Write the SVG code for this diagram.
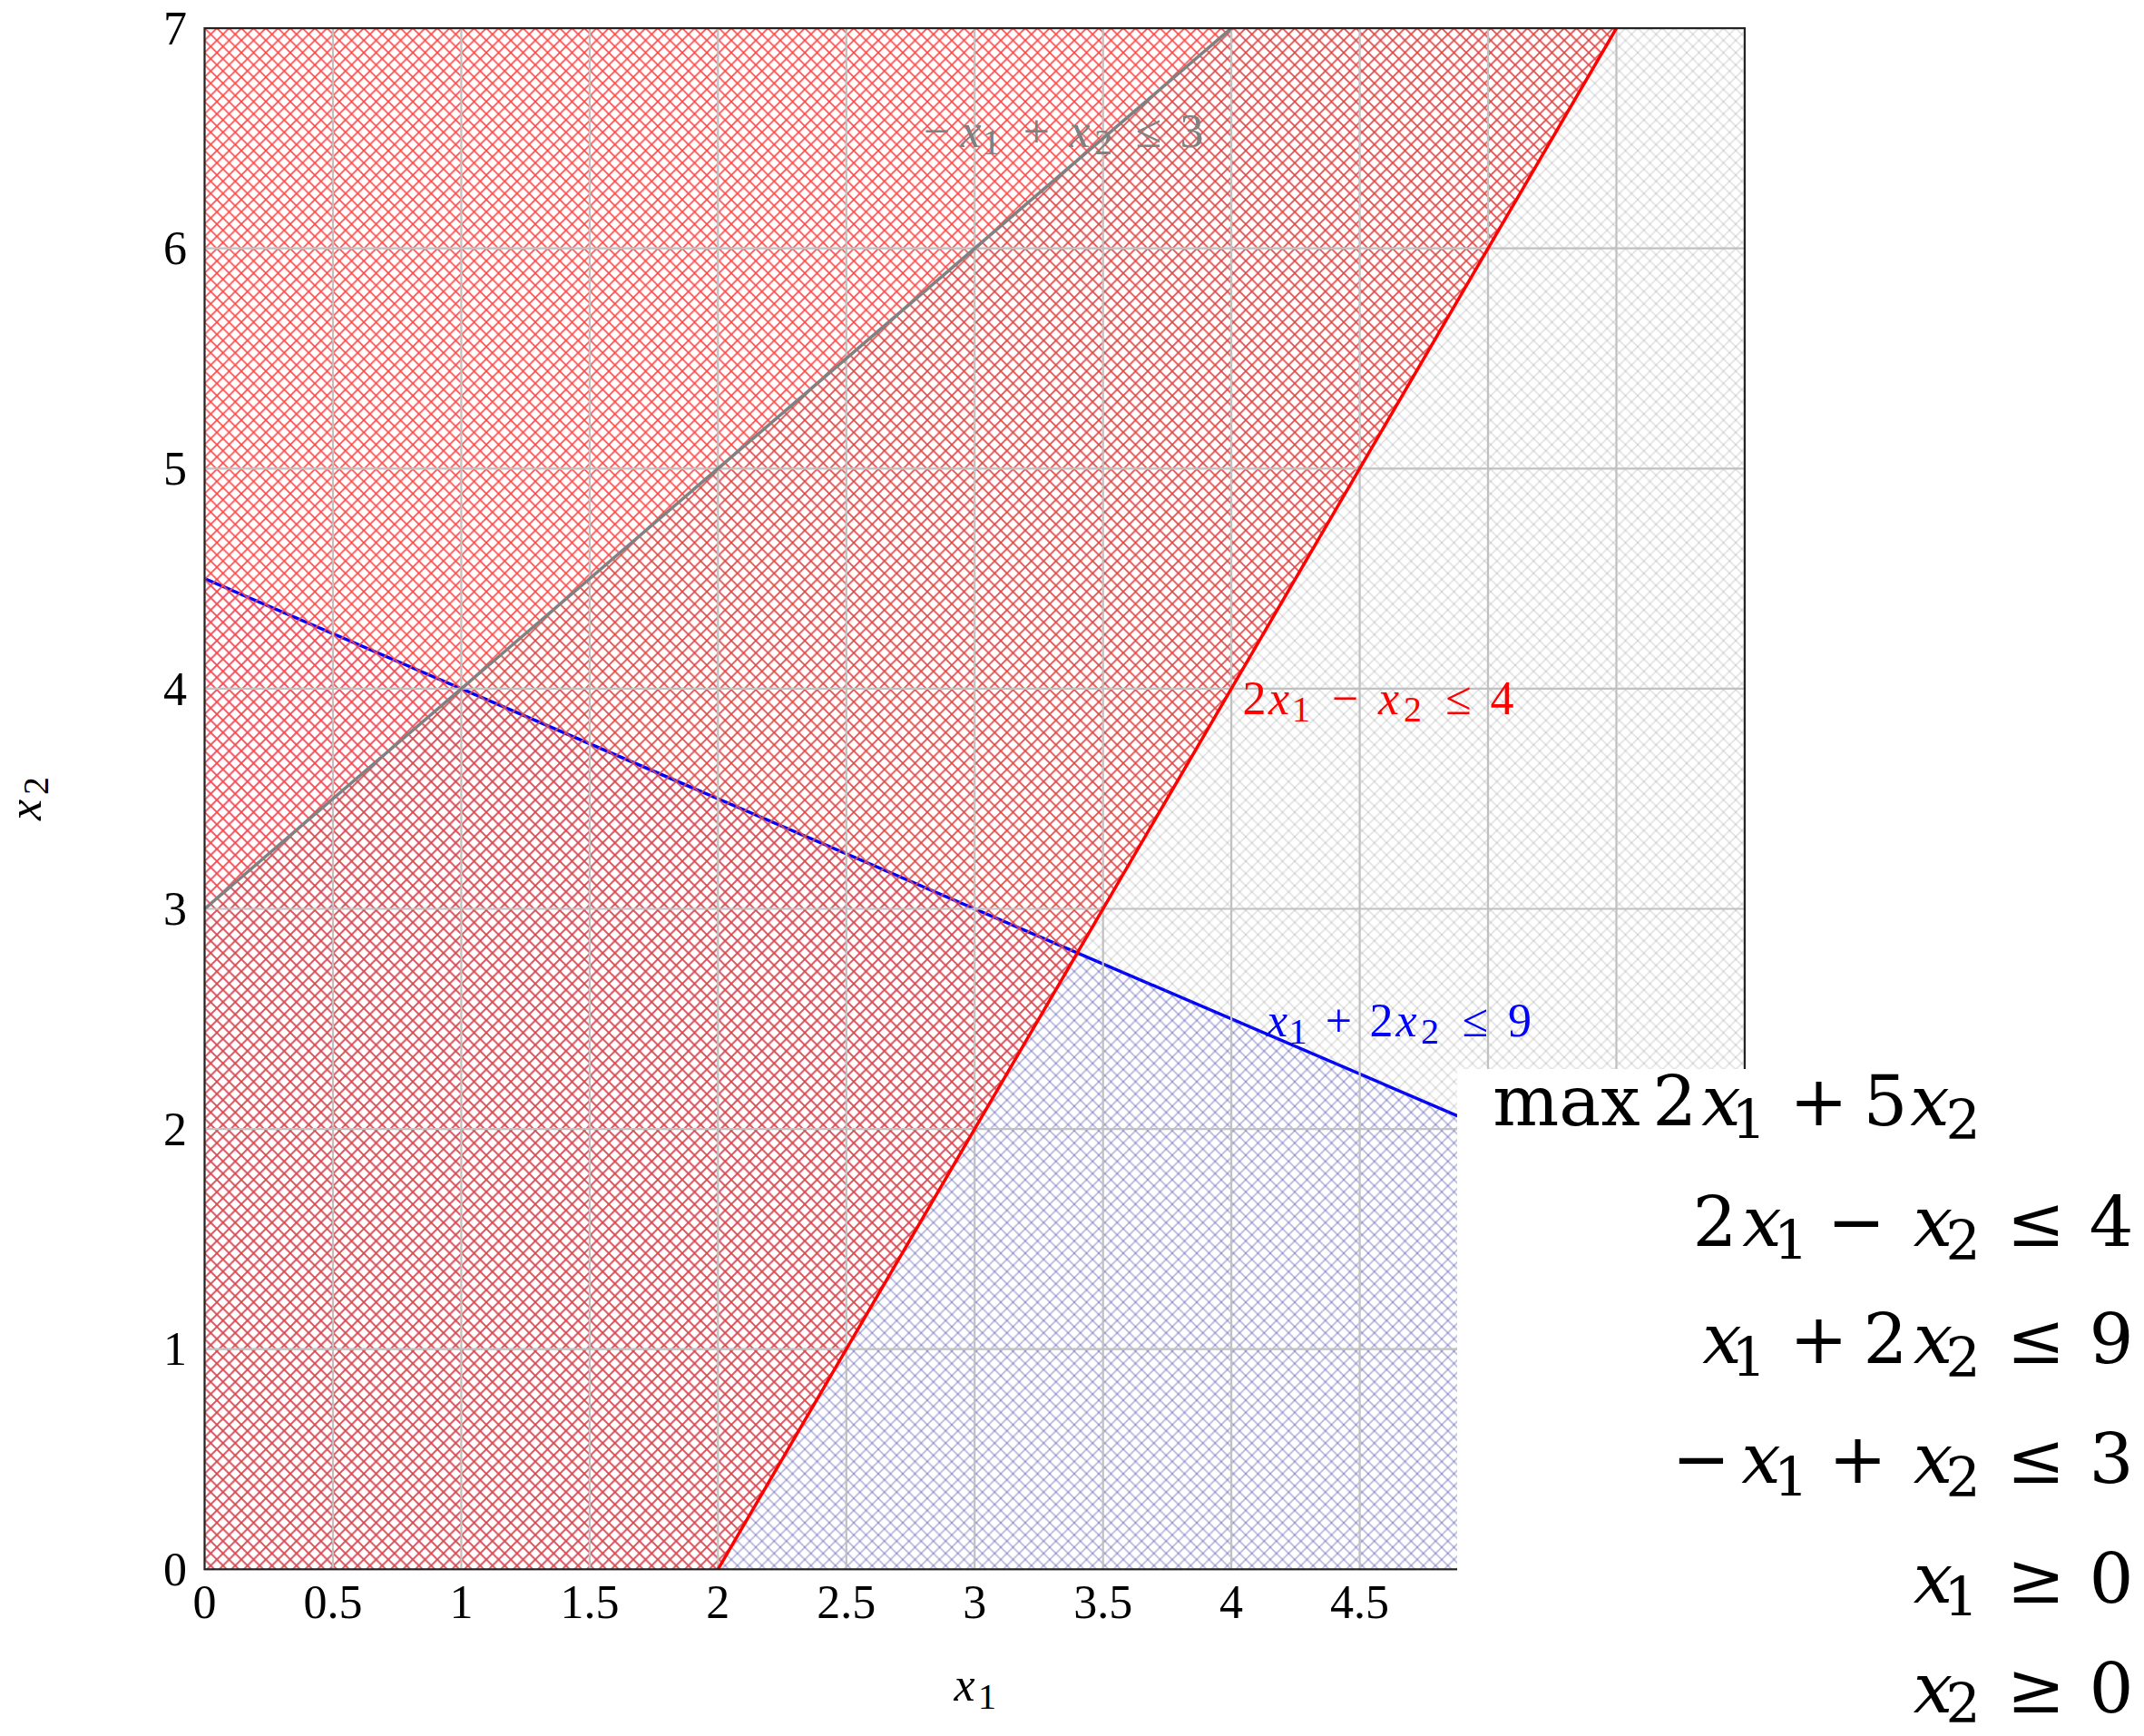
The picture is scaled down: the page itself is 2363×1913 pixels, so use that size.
<svg xmlns="http://www.w3.org/2000/svg" width="2363" height="1913" viewBox="0 0 2363 1913">
<style>
.tick{font-family:"Liberation Serif",serif;font-size:52px;fill:#000}
.cm{font-family:"Liberation Serif",serif;font-size:52px}
.cm .i{font-style:italic}
.cm .s{font-size:40px}
.lp{font-family:"DejaVu Serif",serif;font-size:77px;fill:#000}
.lp .i{font-style:italic}
.lp .s{font-size:60px}
.grid{stroke:#c0c0c0;stroke-width:2.2;fill:none}
</style>
<defs>
<pattern id="hr" patternUnits="userSpaceOnUse" width="13.5" height="13.5" x="225.5" y="31">
<path d="M0,0 L13.5,13.5 M11.5,-2 L15.5,2 M-2,11.5 L2,15.5" stroke="#ff4848" stroke-width="1.6" fill="none"/>
<path d="M0,13.5 L13.5,0 M-2,2 L2,-2 M11.5,15.5 L15.5,11.5" stroke="#ff4848" stroke-width="1.6" fill="none"/>
</pattern>
<pattern id="hb" patternUnits="userSpaceOnUse" width="13.5" height="13.5" x="225.5" y="31">
<path d="M0,0 L13.5,13.5 M11.5,-2 L15.5,2 M-2,11.5 L2,15.5" stroke="#2020e0" stroke-opacity="0.24" stroke-width="1.6" fill="none"/>
<path d="M0,13.5 L13.5,0 M-2,2 L2,-2 M11.5,15.5 L15.5,11.5" stroke="#2020e0" stroke-opacity="0.24" stroke-width="1.6" fill="none"/>
</pattern>
<pattern id="hg" patternUnits="userSpaceOnUse" width="13.5" height="13.5" x="225.5" y="31">
<path d="M0,0 L13.5,13.5 M11.5,-2 L15.5,2 M-2,11.5 L2,15.5" stroke="#606060" stroke-opacity="0.18" stroke-width="1.6" fill="none"/>
<path d="M0,13.5 L13.5,0 M-2,2 L2,-2 M11.5,15.5 L15.5,11.5" stroke="#606060" stroke-opacity="0.18" stroke-width="1.6" fill="none"/>
</pattern>
</defs>
<rect width="2363" height="1913" fill="#fff"/>

<g id="regions">
<polygon id="region-blue" points="225.5,1729.3 1922.9,1729.3 1922.9,1365.4 225.5,637.6" fill="url(#hb)"/>
<line id="line-blue" x1="225.5" y1="637.6" x2="1922.9" y2="1365.4" stroke="#0000ff" stroke-width="3.5"/>
<polygon id="region-red" points="225.5,1729.3 791.3,1729.3 1781.5,31.1 225.5,31.1" fill="url(#hr)"/>
<polygon id="region-gray" points="225.5,1729.3 1922.9,1729.3 1922.9,31.1 1357.1,31.1 225.5,1001.5" fill="url(#hg)"/>
</g>

<g id="grid" class="grid">
<path d="M367,31V1729.3M508.4,31V1729.3M649.9,31V1729.3M791.3,31V1729.3M932.8,31V1729.3M1074.2,31V1729.3M1215.7,31V1729.3M1357.1,31V1729.3M1498.6,31V1729.3M1640,31V1729.3M1781.5,31V1729.3"/>
<path d="M225.5,1486.7H1922.9M225.5,1244.1H1922.9M225.5,1001.5H1922.9M225.5,758.9H1922.9M225.5,516.3H1922.9M225.5,273.7H1922.9"/>
</g>

<g id="connectors">
<line id="line-red" x1="791.3" y1="1729.3" x2="1781.5" y2="31.1" stroke="#ff0000" stroke-width="3.5"/>
<line id="line-gray" x1="225.5" y1="1001.5" x2="1357.1" y2="31.1" stroke="#808080" stroke-width="3.5"/>
</g>

<rect id="frame" x="225.5" y="31.1" width="1697.4" height="1698.2" fill="none" stroke="#222" stroke-width="2.2"/>

<g id="xticks" class="tick" text-anchor="middle">
<text x="225.5" y="1783">0</text>
<text x="367" y="1783">0.5</text>
<text x="508.4" y="1783">1</text>
<text x="649.9" y="1783">1.5</text>
<text x="791.3" y="1783">2</text>
<text x="932.8" y="1783">2.5</text>
<text x="1074.2" y="1783">3</text>
<text x="1215.7" y="1783">3.5</text>
<text x="1357.1" y="1783">4</text>
<text x="1498.6" y="1783">4.5</text>
</g>
<g id="yticks" class="tick" text-anchor="end">
<text x="206" y="1747">0</text>
<text x="206" y="1504.4">1</text>
<text x="206" y="1261.8">2</text>
<text x="206" y="1019.2">3</text>
<text x="206" y="776.6">4</text>
<text x="206" y="534">5</text>
<text x="206" y="291.4">6</text>
<text x="206" y="48.8">7</text>
</g>

<g id="axis-labels">
<text class="cm" text-anchor="middle"><tspan class="i" x="1063" y="1874">x</tspan><tspan class="s" x="1088" y="1883">1</tspan></text>
<text class="cm" text-anchor="middle" transform="translate(45,882) rotate(-90)"><tspan class="i" x="-10.5" y="0">x</tspan><tspan class="s" x="16" y="8">2</tspan></text>
</g>

<g id="label-gray" class="cm" fill="#808080">
<text text-anchor="middle"><tspan x="1032.5" y="161.7">−</tspan><tspan class="i" x="1070" y="161.7">x</tspan><tspan class="s" x="1092.5" y="170">1</tspan><tspan x="1142.5" y="161.7">+</tspan><tspan class="i" x="1190" y="161.7">x</tspan><tspan class="s" x="1216" y="170">2</tspan><tspan x="1266" y="161.7">≤</tspan><tspan x="1313.5" y="161.7">3</tspan></text>
</g>
<g id="label-red" class="cm" fill="#ff0000">
<text text-anchor="middle"><tspan x="1382.5" y="786.7">2</tspan><tspan class="i" x="1409.5" y="786.7">x</tspan><tspan class="s" x="1434" y="795">1</tspan><tspan x="1482.5" y="786.7">−</tspan><tspan class="i" x="1530.5" y="786.7">x</tspan><tspan class="s" x="1557" y="795">2</tspan><tspan x="1607.5" y="786.7">≤</tspan><tspan x="1655.5" y="786.7">4</tspan></text>
</g>
<g id="label-blue" class="cm" fill="#0000ff">
<text text-anchor="middle"><tspan class="i" x="1407.5" y="1141.7">x</tspan><tspan class="s" x="1430.5" y="1150">1</tspan><tspan x="1475.5" y="1141.7">+</tspan><tspan x="1522.5" y="1141.7">2</tspan><tspan class="i" x="1550" y="1141.7">x</tspan><tspan class="s" x="1576" y="1150">2</tspan><tspan x="1626" y="1141.7">≤</tspan><tspan x="1675" y="1141.7">9</tspan></text>
</g>

<g id="lp-box">
<rect x="1606" y="1178" width="757" height="735" fill="#fff"/>
<g class="lp" text-anchor="middle">
<text><tspan x="1726.5" y="1240">max</tspan><tspan x="1845.7" y="1240">2</tspan><tspan class="i" x="1897" y="1240">x</tspan><tspan class="s" x="1927.5" y="1255">1</tspan><tspan x="2004.5" y="1240">+</tspan><tspan x="2078" y="1240">5</tspan><tspan class="i" x="2127" y="1240">x</tspan><tspan class="s" x="2163.5" y="1255">2</tspan></text>
<text><tspan x="1890" y="1372.5">2</tspan><tspan class="i" x="1942" y="1372.5">x</tspan><tspan class="s" x="1974" y="1387.5">1</tspan><tspan x="2046" y="1372.5">−</tspan><tspan class="i" x="2130.5" y="1372.5">x</tspan><tspan class="s" x="2163.5" y="1387.5">2</tspan><tspan x="2244" y="1372.5">≤</tspan><tspan x="2327" y="1372.5">4</tspan></text>
<text><tspan class="i" x="1898" y="1502">x</tspan><tspan class="s" x="1927.5" y="1517">1</tspan><tspan x="2004.5" y="1502">+</tspan><tspan x="2078" y="1502">2</tspan><tspan class="i" x="2130.5" y="1502">x</tspan><tspan class="s" x="2163.5" y="1517">2</tspan><tspan x="2244" y="1502">≤</tspan><tspan x="2327" y="1502">9</tspan></text>
<text><tspan x="1875" y="1634">−</tspan><tspan class="i" x="1941" y="1634">x</tspan><tspan class="s" x="1974" y="1649">1</tspan><tspan x="2047.5" y="1634">+</tspan><tspan class="i" x="2130.5" y="1634">x</tspan><tspan class="s" x="2163.5" y="1649">2</tspan><tspan x="2244" y="1634">≤</tspan><tspan x="2327" y="1634">3</tspan></text>
<text><tspan class="i" x="2130.5" y="1766">x</tspan><tspan class="s" x="2161.5" y="1781">1</tspan><tspan x="2244" y="1766">≥</tspan><tspan x="2327" y="1766">0</tspan></text>
<text><tspan class="i" x="2130.5" y="1887">x</tspan><tspan class="s" x="2163.5" y="1898">2</tspan><tspan x="2244" y="1887">≥</tspan><tspan x="2327" y="1887">0</tspan></text>
</g>
</g>
</svg>
